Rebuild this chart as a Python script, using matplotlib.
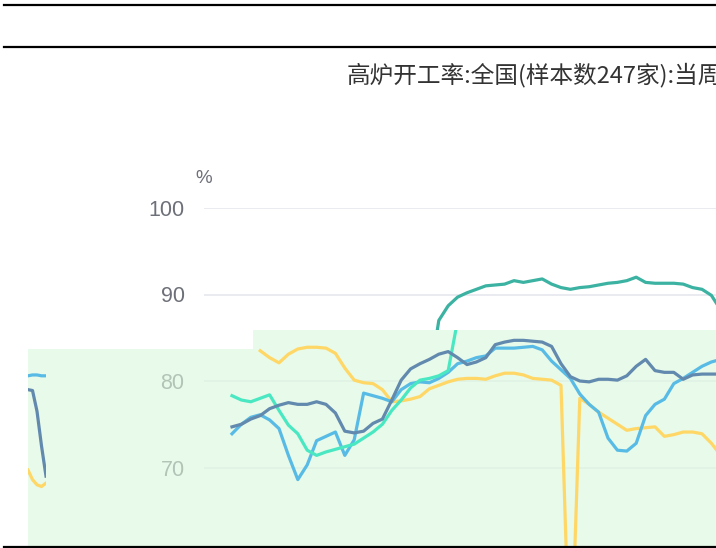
import matplotlib

matplotlib.use("Agg")
import matplotlib.pyplot as plt
from matplotlib.patches import Rectangle, Polygon

plt.rcParams["font.family"] = ["Liberation Sans", "DejaVu Sans"]

# weekly series, index 0 = first visible week
yellow = [None, None, None,
          83.5, 82.7, 82.1, 83.1, 83.7, 83.9, 83.9, 83.8, 83.2, 81.5, 80.1, 79.8,
          79.7, 79.0, 77.6, 77.7, 77.9, 78.2, 79.1, 79.5, 79.9, 80.2, 80.3, 80.3,
          80.2, 80.6, 80.9, 80.9, 80.7, 80.3, 80.2, 80.1, 79.5, 45.0, 78.0, 77.3,
          76.4, 75.7, 75.0, 74.3, 74.5, 74.6, 74.7, 73.6, 73.8, 74.1, 74.1, 73.9,
          72.8, 71.4]
light_blue = [73.9, 75.0, 75.8, 76.1, 75.5, 74.5, 71.4, 68.6, 70.3, 73.1, 73.6,
              74.1, 71.4, 73.2, 78.6, 78.3, 78.0, 77.6, 79.0, 79.7, 79.9, 79.8,
              80.3, 81.0, 82.0, 82.3, 82.7, 82.9, 83.8, 83.8, 83.8, 83.9, 84.0,
              83.6, 82.3, 81.3, 80.3, 78.5, 77.3, 76.4, 73.4, 72.0, 71.9, 72.8,
              76.0, 77.3, 77.9, 79.7, 80.3, 81.0, 81.7, 82.2, 82.5]
mint = [78.3, 77.8, 77.6, 78.0, 78.4, 76.6, 74.9, 73.9, 72.0, 71.4, 71.8, 72.1,
        72.4, 72.7, 73.4, 74.1, 75.0, 76.6, 77.8, 79.2, 80.1, 80.3, 80.6, 81.2,
        87.0]
slate = [74.7, 75.0, 75.6, 76.0, 76.8, 77.2, 77.5, 77.3, 77.3, 77.6, 77.3, 76.3,
         74.2, 74.0, 74.2, 75.1, 75.6, 77.8, 80.1, 81.4, 82.0, 82.5, 83.1, 83.4,
         82.7, 81.9, 82.2, 82.7, 84.2, 84.5, 84.7, 84.7, 84.6, 84.5, 84.0, 82.0,
         80.5, 80.0, 79.9, 80.2, 80.2, 80.1, 80.6, 81.7, 82.5, 81.2, 81.0, 81.0,
         80.2, 80.7, 80.8, 80.8, 80.8]
teal_start = 21
teal = [80.0, 87.0, 88.7, 89.7, 90.2, 90.6, 91.0, 91.1, 91.2, 91.6, 91.4, 91.6,
        91.8, 91.2, 90.8, 90.6, 90.8, 90.9, 91.1, 91.3, 91.4, 91.6, 92.0, 91.4,
        91.3, 91.3, 91.3, 91.2, 90.8, 90.6, 89.9, 88.2]

# sliver of a second copy at the far left
sliver_blue = [80.6, 80.7, 80.7, 80.6, 80.6]
sliver_slate = [79.0, 78.9, 76.5, 72.5, 69.0]
sliver_yellow = [69.7, 68.6, 68.0, 67.8, 68.2]

y_ticks = [60, 70, 80, 90, 100]
title = "高炉开工率:全国(样本数247家):当周"

W, H = 716, 548
fig = plt.figure(figsize=(W / 100, H / 100), dpi=100)
fig.patch.set_facecolor("white")

ppu = 8.65     # pixels per percentage point
step = 9.4     # pixels per week
x0 = 232       # pixel of week 0
y100 = 208     # pixel of 100%

bottom = 1 - (y100 + 40 * ppu) / H
height = 40 * ppu / H
ax = fig.add_axes([204 / W, bottom, 1 - 204 / W, height])
ax.set_ylim(60, 100)
ax.set_xlim(-(x0 - 204) / step, (W - x0) / step)
for s in ax.spines.values():
    s.set_visible(False)
ax.set_xticks([])
ax.set_yticks(y_ticks)
ax.set_yticklabels([str(v) for v in y_ticks], fontsize=15.5, color="#6e7079")
ax.tick_params(axis="y", length=0, pad=14)
ax.grid(axis="y", color="#e8e9ef", linewidth=1.3)
ax.set_axisbelow(True)
ax.text(0, 103.4, "%", transform=ax.get_yaxis_transform(), ha="center",
        va="center", fontsize=13.5, color="#6e7079", clip_on=False)

# pale green pasted panel
green = "#dbf8dd"
ov = Polygon([(28 / W, 0), (1, 0), (1, 1 - 330 / H), (253 / W, 1 - 330 / H),
              (253 / W, 1 - 349 / H), (28 / W, 1 - 349 / H)],
             closed=True, transform=fig.transFigure, facecolor=green,
             alpha=0.62, edgecolor="none", zorder=1, clip_on=False)
ax.add_patch(ov)

clip_low = Rectangle((0, 0), 1, 1 - 330 / H, transform=fig.transFigure)
clip_high = Rectangle((0, 1 - 330 / H), 1, 330 / H, transform=fig.transFigure)

lw = 2.3
series = [(yellow, "#ffd766"), (light_blue, "#58bbe6"), (mint, "#4ae8c2"),
          (slate, "#6289ae")]
for vals, col in series:
    xs = [i for i, v in enumerate(vals) if v is not None]
    ys = [v for v in vals if v is not None]
    ln, = ax.plot(xs, ys, color=col, lw=lw, zorder=2, solid_joinstyle="round")
    ln.set_clip_path(clip_low)

tx = list(range(teal_start, teal_start + len(teal)))
ln, = ax.plot(tx, teal, color="#3bb2a2", lw=lw, zorder=2)
ln.set_clip_path(clip_high)

ax2 = fig.add_axes([28 / W, bottom, 18 / W, height])
ax2.set_ylim(60, 100)
ax2.set_xlim(0, 4)
ax2.axis("off")
for vals, col in [(sliver_blue, "#58bbe6"), (sliver_slate, "#6289ae"),
                  (sliver_yellow, "#ffd766")]:
    ax2.plot(range(len(vals)), vals, color=col, lw=lw)

# frame lines of the page
for yy in (5, 47, 546.5):
    fig.add_artist(plt.Line2D([4 / W, 1], [1 - yy / H] * 2, color="black",
                              lw=1.6, transform=fig.transFigure))

fig.text(347 / W, 1 - 75 / H, title, ha="left", va="center", fontsize=17,
         color="#333333", family=["Noto Sans CJK SC", "DejaVu Sans"])

fig.savefig("out.png", dpi=100)
